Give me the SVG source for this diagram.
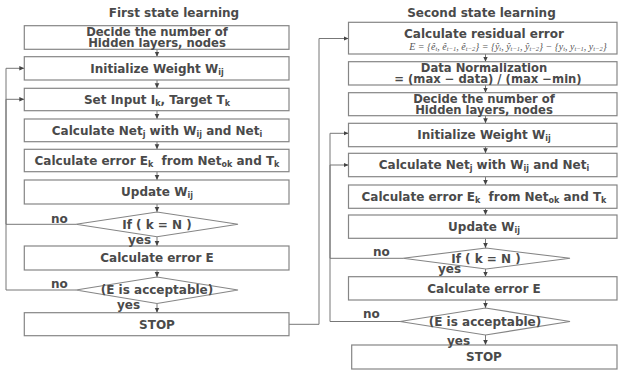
<svg xmlns="http://www.w3.org/2000/svg" width="619" height="370" viewBox="0 0 619 370">
<style>
.box{fill:#fff;stroke:#858585;stroke-width:1.2}
.dia{fill:#fff;stroke:#858585;stroke-width:1.1}
.t{font-family:"DejaVu Sans",sans-serif;font-weight:bold;font-size:12px;fill:#4a4a4a;text-anchor:middle}
.t2{font-size:11.6px}
.l{font-family:"DejaVu Sans",sans-serif;font-weight:bold;font-size:12px;fill:#4a4a4a}
.s{font-size:8px}
.f{font-family:"Liberation Serif",serif;font-style:italic;font-size:10px;fill:#555;text-anchor:middle}
.fs{font-size:6.5px}
.c{fill:none;stroke:#777;stroke-width:1}
</style>
<defs>
<marker id="ah" markerWidth="6" markerHeight="6" refX="5" refY="3" orient="auto" markerUnits="userSpaceOnUse">
<path d="M0,0.7 L5,3 L0,5.3z" fill="#444"/>
</marker>
</defs>
<rect width="619" height="370" fill="#fff"/>
<text class="t" x="174" y="16.5">First state learning</text>
<text class="t" x="481.5" y="16.5">Second state learning</text>
<g id="connectors">
<line class="c" x1="157" y1="49.3" x2="157" y2="56.7" marker-end="url(#ah)"/>
<line class="c" x1="157" y1="80" x2="157" y2="88.3" marker-end="url(#ah)"/>
<line class="c" x1="157" y1="110.7" x2="157" y2="119" marker-end="url(#ah)"/>
<line class="c" x1="157" y1="141.7" x2="157" y2="149.3" marker-end="url(#ah)"/>
<line class="c" x1="157" y1="171.7" x2="157" y2="180" marker-end="url(#ah)"/>
<line class="c" x1="157" y1="204" x2="157" y2="212" marker-end="url(#ah)"/>
<line class="c" x1="157" y1="237" x2="157" y2="246" marker-end="url(#ah)"/>
<line class="c" x1="157" y1="270" x2="157" y2="277" marker-end="url(#ah)"/>
<line class="c" x1="157" y1="303.5" x2="157" y2="312.7" marker-end="url(#ah)"/>
<path class="c" d="M76,224.3 H6 V99.3 H24.3" marker-end="url(#ah)"/>
<path class="c" d="M76,290 H6 V68.3 H24.3" marker-end="url(#ah)"/>
<path class="c" d="M289,324.3 H319 V38.5 H348.5" marker-end="url(#ah)"/>
<line class="c" x1="485.5" y1="54" x2="485.5" y2="61.7" marker-end="url(#ah)"/>
<line class="c" x1="485.5" y1="85" x2="485.5" y2="92.7" marker-end="url(#ah)"/>
<line class="c" x1="485.5" y1="115.7" x2="485.5" y2="123.3" marker-end="url(#ah)"/>
<line class="c" x1="485.5" y1="146.7" x2="485.5" y2="153.3" marker-end="url(#ah)"/>
<line class="c" x1="485.5" y1="176.7" x2="485.5" y2="185" marker-end="url(#ah)"/>
<line class="c" x1="485.5" y1="208.3" x2="485.5" y2="215" marker-end="url(#ah)"/>
<line class="c" x1="485.5" y1="238.3" x2="485.5" y2="248" marker-end="url(#ah)"/>
<line class="c" x1="485.5" y1="269" x2="485.5" y2="276.7" marker-end="url(#ah)"/>
<line class="c" x1="485.5" y1="300" x2="485.5" y2="308" marker-end="url(#ah)"/>
<line class="c" x1="485.5" y1="335" x2="485.5" y2="345" marker-end="url(#ah)"/>
<path class="c" d="M403,258.3 H330 V165 H348.5" marker-end="url(#ah)"/>
<path class="c" d="M400,321.5 H330 V133.3 H348.5" marker-end="url(#ah)"/>
</g>
<g id="L1"><rect class="box" x="24.3" y="25.7" width="264.7" height="23.6"/>
<text class="t t2" x="157" y="35.6">Decide the number of</text>
<text class="t t2" x="157" y="47.4">Hidden layers,  nodes</text></g>
<g id="L2"><rect class="box" x="24.3" y="56.7" width="264.7" height="23.3"/>
<text class="t" x="157" y="72.6">Initialize Weight W<tspan class="s" dy="2">ij</tspan></text></g>
<g id="L3"><rect class="box" x="24.3" y="88.3" width="264.7" height="22.4"/>
<text class="t" x="157" y="103.8">Set Input I<tspan class="s" dy="2">k</tspan><tspan dy="-2">,  Target T</tspan><tspan class="s" dy="2">k</tspan></text></g>
<g id="L4"><rect class="box" x="24.3" y="119" width="264.7" height="22.7"/>
<text class="t" x="157" y="134.6">Calculate Net<tspan class="s" dy="2">j</tspan><tspan dy="-2"> with W</tspan><tspan class="s" dy="2">ij</tspan><tspan dy="-2"> and Net</tspan><tspan class="s" dy="2">i</tspan></text></g>
<g id="L5"><rect class="box" x="24.3" y="149.3" width="264.7" height="22.4"/>
<text class="t" x="157" y="164.8">Calculate error E<tspan class="s" dy="2">k</tspan><tspan dy="-2" dx="4"> from Net</tspan><tspan class="s" dy="2">ok</tspan><tspan dy="-2"> and T</tspan><tspan class="s" dy="2">k</tspan></text></g>
<g id="L6"><rect class="box" x="24.3" y="180" width="264.7" height="24"/>
<text class="t" x="157" y="196.3">Update W<tspan class="s" dy="2">ij</tspan></text></g>
<g id="L7"><polygon class="dia" points="76,224.3 157,212 238,224.3 157,236.8"/>
<text class="t" x="157" y="228.5">If ( k = N )</text></g>
<g id="L8"><rect class="box" x="24.3" y="246" width="264.7" height="24"/>
<text class="t" x="157" y="262.3">Calculate error E</text></g>
<g id="L9"><polygon class="dia" points="76,290 157,277 238,290 157,303.5"/>
<text class="t" x="157" y="294.3">(E is acceptable)</text></g>
<g id="L10"><rect class="box" x="24.3" y="312.7" width="264.7" height="23"/>
<text class="t" x="157" y="328.5">STOP</text></g>
<g id="Llabels">
<text class="l" x="51" y="222.5">no</text>
<text class="l" x="128" y="243.5">yes</text>
<text class="l" x="51" y="288">no</text>
<text class="l" x="117" y="309">yes</text>
</g>
<g id="R1"><rect class="box" x="348.5" y="22.3" width="268.5" height="31.7"/>
<text class="t" x="484" y="37.5">Calculate residual error</text>
<text class="f" x="508" y="49.5">E = {ê<tspan class="fs" dy="1.5">t</tspan><tspan dy="-1.5">, ê</tspan><tspan class="fs" dy="1.5">t−1</tspan><tspan dy="-1.5">, ê</tspan><tspan class="fs" dy="1.5">t−2</tspan><tspan dy="-1.5">} = {ŷ</tspan><tspan class="fs" dy="1.5">t</tspan><tspan dy="-1.5">, ŷ</tspan><tspan class="fs" dy="1.5">t−1</tspan><tspan dy="-1.5">, ŷ</tspan><tspan class="fs" dy="1.5">t−2</tspan><tspan dy="-1.5">} − {y</tspan><tspan class="fs" dy="1.5">t</tspan><tspan dy="-1.5">, y</tspan><tspan class="fs" dy="1.5">t−1</tspan><tspan dy="-1.5">, y</tspan><tspan class="fs" dy="1.5">t−2</tspan><tspan dy="-1.5">}</tspan></text></g>
<g id="R2"><rect class="box" x="348.5" y="61.7" width="268.5" height="23.3"/>
<text class="t t2" x="484" y="71.6">Data Normalization</text>
<text class="t t2" x="488" y="83.3">= (max − data) / (max −min)</text></g>
<g id="R3"><rect class="box" x="348.5" y="92.7" width="268.5" height="23"/>
<text class="t t2" x="484" y="102.6">Decide the number of</text>
<text class="t t2" x="484" y="114.3">Hidden layers,  nodes</text></g>
<g id="R4"><rect class="box" x="348.5" y="123.3" width="268.5" height="23.4"/>
<text class="t" x="484" y="139.3">Initialize Weight W<tspan class="s" dy="2">ij</tspan></text></g>
<g id="R5"><rect class="box" x="348.5" y="153.3" width="268.5" height="23.4"/>
<text class="t" x="484" y="169.3">Calculate Net<tspan class="s" dy="2">j</tspan><tspan dy="-2"> with W</tspan><tspan class="s" dy="2">ij</tspan><tspan dy="-2"> and Net</tspan><tspan class="s" dy="2">i</tspan></text></g>
<g id="R6"><rect class="box" x="348.5" y="185" width="268.5" height="23.3"/>
<text class="t" x="484" y="201">Calculate error E<tspan class="s" dy="2">k</tspan><tspan dy="-2" dx="4"> from Net</tspan><tspan class="s" dy="2">ok</tspan><tspan dy="-2"> and T</tspan><tspan class="s" dy="2">k</tspan></text></g>
<g id="R7"><rect class="box" x="348.5" y="215" width="268.5" height="23.3"/>
<text class="t" x="484" y="231">Update W<tspan class="s" dy="2">ij</tspan></text></g>
<g id="R8"><polygon class="dia" points="403,258.3 486,248 570,258.3 486,269"/>
<text class="t" x="486" y="262.5">If ( k = N )</text></g>
<g id="R9"><rect class="box" x="348.5" y="276.7" width="268.5" height="23.3"/>
<text class="t" x="484" y="292.6">Calculate error E</text></g>
<g id="R10"><polygon class="dia" points="400,321.5 485.5,308 570,321.5 485.5,335"/>
<text class="t" x="485" y="325.8">(E is acceptable)</text></g>
<g id="R11"><rect class="box" x="351.7" y="345" width="265.3" height="24"/>
<text class="t" x="484" y="361.3">STOP</text></g>
<g id="Rlabels">
<text class="l" x="373" y="255.5">no</text>
<text class="l" x="438" y="273">yes</text>
<text class="l" x="363" y="317.5">no</text>
<text class="l" x="447" y="344.5">yes</text>
</g>
</svg>
